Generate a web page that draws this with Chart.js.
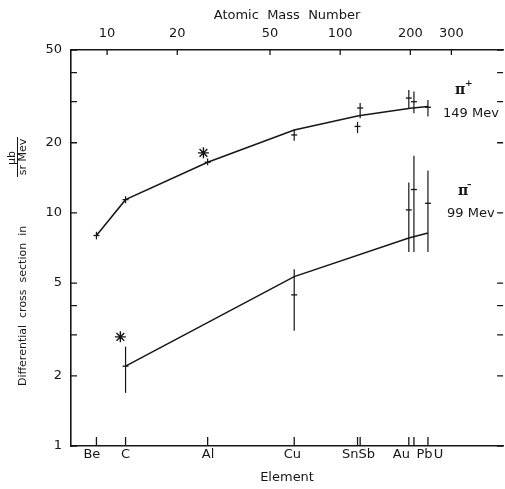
<!DOCTYPE html>
<html lang="en">
<head>
<meta charset="UTF-8">
<title>Differential cross section vs element</title>
<script src="https://cdn.jsdelivr.net/npm/chart.js"></script>
<style>
    * { margin: 0; padding: 0; box-sizing: border-box; }
    html, body { width: 505px; height: 489px; overflow: hidden; background: #fff; }
    #wrap { width: 510px; height: 489px; }
</style>
</head>
<body>
<div id="wrap"><canvas id="chart" width="510" height="489"></canvas></div>
<script>
// elements and their atomic mass numbers (bottom axis ticks)
const elements = ['Be', 'C', 'Al', 'Cu', 'Sn', 'Sb', 'Au', 'Pb', 'U'];
const massNumbers = [9, 12, 27, 63.5, 118.7, 121.8, 197, 207.2, 238];

// element names as printed under the axis, and where they sit (in A)
const elementLabels = ['Be', 'C', 'Al', 'Cu', 'SnSb', 'Au', 'Pb', 'U'];
const elementLabelMass = [8.6, 12.0, 27.1, 62.4, 119.8, 183, 230, 264];

const topTicks = [10, 20, 50, 100, 200, 300];
const yTicks = [1, 2, 5, 10, 20, 50];
const yMinorTicks = [3, 4, 30, 40];

// pi+ 149 Mev measurements
const piPlusValue = [8.0, 11.4, 16.5, 21.6, 23.5, 28.2, 31.1, 30.0, 28.4];
const piPlusLow   = [7.7, 11.0, 16.0, 20.4, 22.0, 25.5, 28.2, 26.8, 25.9];
const piPlusHigh  = [8.3, 11.8, 17.1, 22.8, 24.6, 29.6, 33.7, 33.2, 30.5];

// pi+ drawn curve
const piPlusCurveMass = [9, 12, 27, 63.5, 120, 200, 238];
const piPlusCurve     = [8.0, 11.4, 16.5, 22.7, 26.1, 28.1, 28.6];

// pi- 99 Mev measurements (C, Cu, Au, Pb, U)
const piMinusMass  = [12, 63.5, 197, 207.2, 238];
const piMinusValue = [2.2, 4.45, 10.3, 12.6, 11.0];
const piMinusLow   = [1.69, 3.12, 6.8, 6.8, 6.8];
const piMinusHigh  = [2.67, 5.73, 13.5, 17.6, 15.2];

// pi- drawn curve
const piMinusCurveMass = [12, 63.5, 197, 238];
const piMinusCurve     = [2.2, 5.33, 7.8, 8.2];

// asterisk points
const starMass  = [25.9, 11.4];
const starValue = [18.1, 2.94];

const ink = '#161616';
const pts = (xs, ys) => xs.map((x, i) => ({ x: x, y: ys[i] }));

Chart.defaults.font.family = 'DejaVu Sans';
Chart.defaults.color = ink;

// short tick marks pointing into the plot
const innerTicks = {
    id: 'innerTicks',
    afterDraw(chart) {
        const { ctx, chartArea: a, scales } = chart;
        ctx.save();
        ctx.strokeStyle = ink;
        ctx.lineWidth = 1.3;
        ctx.beginPath();
        massNumbers.forEach(m => {
            const x = scales.x.getPixelForValue(m);
            ctx.moveTo(x, a.bottom);
            ctx.lineTo(x, a.bottom - 9);
        });
        topTicks.forEach(m => {
            const x = scales.xTop.getPixelForValue(m);
            ctx.moveTo(x, a.top);
            ctx.lineTo(x, a.top + 5);
        });
        yTicks.concat(yMinorTicks).forEach(v => {
            const y = scales.y.getPixelForValue(v);
            ctx.moveTo(a.left, y);
            ctx.lineTo(a.left + 6, y);
            ctx.moveTo(a.right, y);
            ctx.lineTo(a.right - 6, y);
        });
        ctx.stroke();
        ctx.restore();
    }
};

// vertical error bars
const errorBars = {
    id: 'errorBars',
    afterDatasetsDraw(chart) {
        const { ctx, scales } = chart;
        ctx.save();
        ctx.strokeStyle = ink;
        ctx.lineWidth = 1.2;
        chart.data.datasets.forEach(ds => {
            if (!ds.errLow) return;
            ds.data.forEach((p, i) => {
                const x = scales.x.getPixelForValue(p.x);
                ctx.beginPath();
                ctx.moveTo(x, scales.y.getPixelForValue(ds.errLow[i]));
                ctx.lineTo(x, scales.y.getPixelForValue(ds.errHigh[i]));
                ctx.stroke();
            });
        });
        ctx.restore();
    }
};

// y title with the fraction, and the pi labels
const texts = {
    id: 'texts',
    afterDraw(chart) {
        const ctx = chart.ctx;
        ctx.save();
        ctx.fillStyle = ink;
        ctx.strokeStyle = ink;

        ctx.save();
        ctx.translate(0, 0);
        ctx.rotate(-Math.PI / 2);
        ctx.font = '11px DejaVu Sans';
        ctx.textBaseline = 'middle';
        ctx.textAlign = 'left';
        ctx.fillText('Differential  cross  section  in', -386, 23);
        ctx.textAlign = 'center';
        ctx.fillText('\u03bcb', -158, 12);
        ctx.fillText('sr Mev', -157, 23);
        ctx.lineWidth = 1;
        ctx.beginPath();
        ctx.moveTo(-177, 17.5);
        ctx.lineTo(-137, 17.5);
        ctx.stroke();
        ctx.restore();

        ctx.textBaseline = 'middle';
        ctx.textAlign = 'left';
        ctx.font = 'bold 14px DejaVu Serif';
        ctx.fillText('\u03c0', 455, 90);
        ctx.fillText('\u03c0', 458, 191);
        ctx.font = 'bold 9px DejaVu Sans';
        ctx.fillText('+', 465, 84);
        ctx.fillText('\u2013', 467, 185);
        ctx.font = '13px DejaVu Sans';
        ctx.fillText('149 Mev', 443, 114);
        ctx.fillText('99 Mev', 447, 214);
        ctx.restore();
    }
};

new Chart(document.getElementById('chart'), {
    type: 'line',
    data: {
        datasets: [
            {
                label: 'pi+ curve',
                data: pts(piPlusCurveMass, piPlusCurve),
                borderColor: ink, borderWidth: 1.5, pointRadius: 0, tension: 0
            },
            {
                label: 'pi- curve',
                data: pts(piMinusCurveMass, piMinusCurve),
                borderColor: ink, borderWidth: 1.5, pointRadius: 0, tension: 0
            },
            {
                label: 'pi+ 149 Mev',
                data: pts(massNumbers, piPlusValue),
                errLow: piPlusLow, errHigh: piPlusHigh,
                showLine: false, pointStyle: 'line', pointRadius: 3,
                borderColor: ink, borderWidth: 1.3
            },
            {
                label: 'pi- 99 Mev',
                data: pts(piMinusMass, piMinusValue),
                errLow: piMinusLow, errHigh: piMinusHigh,
                showLine: false, pointStyle: 'line', pointRadius: 3,
                borderColor: ink, borderWidth: 1.3
            },
            {
                label: 'asterisk',
                data: pts(starMass, starValue),
                showLine: false, pointStyle: 'star', pointRadius: 5.5,
                borderColor: ink, borderWidth: 1.4
            }
        ]
    },
    options: {
        responsive: false,
        animation: false,
        devicePixelRatio: 1,
        layout: { padding: { left: 0, right: 3, top: 0, bottom: 0 } },
        plugins: { legend: { display: false }, tooltip: { enabled: false } },
        scales: {
            x: {
                type: 'logarithmic', position: 'bottom', min: 7, max: 500,
                afterBuildTicks: s => { s.ticks = elementLabelMass.map(v => ({ value: v })); },
                afterFit: s => { s.height = 43; },
                ticks: {
                    autoSkip: false, maxRotation: 0, padding: 1,
                    font: { size: 13 },
                    callback: (v, i) => elementLabels[i]
                },
                grid: { display: false, drawTicks: false },
                border: { color: ink, width: 1.6 },
                title: { display: true, text: 'Element', font: { size: 13 }, padding: { top: 0, bottom: 4 } }
            },
            xTop: {
                type: 'logarithmic', position: 'top', min: 7, max: 500,
                afterBuildTicks: s => { s.ticks = topTicks.map(v => ({ value: v })); },
                afterFit: s => { s.height = 50; },
                ticks: {
                    autoSkip: false, maxRotation: 0, padding: 9,
                    font: { size: 13 },
                    callback: v => String(v)
                },
                grid: { display: false, drawTicks: false },
                border: { color: ink, width: 1.6 },
                title: { display: true, text: 'Atomic  Mass  Number', font: { size: 13 }, padding: { top: 8, bottom: 0 } }
            },
            y: {
                type: 'logarithmic', min: 1, max: 50,
                afterBuildTicks: s => { s.ticks = yTicks.map(v => ({ value: v })); },
                afterFit: s => { s.width = 71; },
                ticks: {
                    autoSkip: false, padding: 9,
                    font: { size: 13 },
                    callback: v => String(v)
                },
                grid: { display: false, drawTicks: false },
                border: { color: ink, width: 1.6 }
            }
        }
    },
    plugins: [innerTicks, errorBars, texts]
});
</script>
</body>
</html>
